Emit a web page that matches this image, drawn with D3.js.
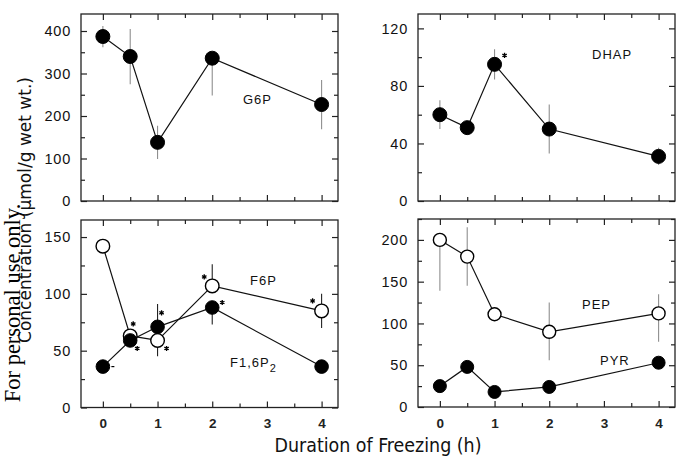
<!DOCTYPE html>
<html><head><meta charset="utf-8">
<script src="https://cdn.jsdelivr.net/npm/d3@7"></script>
<style>
html,body{margin:0;padding:0;background:#fff;}
svg{display:block;}
</style></head>
<body>
<svg id="chart" width="676" height="460"></svg>
<script>
// ---- data ----
const hours = [0, 0.5, 1, 2, 4];
const xTickLabels = [0, 1, 2, 3, 4];
const G6P = [387, 340, 138, 336, 227];
const G6P_up = [25, 65, 39, 0, 58];
const G6P_down = [25, 65, 39, 88, 58];
const DHAP = [60, 51, 95, 50, 31];
const DHAP_up = [10, 0, 10.5, 17, 6];
const DHAP_down = [10, 0, 10.5, 17, 6];
const F6P = [142, 63, 59, 107, 85];
const F6P_up = [0, 6, 0, 19, 15];
const F6P_down = [0, 0, 14, 0, 15];
const F16P2 = [36, 59, 71, 88, 36];
const F16P2_up = [0, 0, 20, 0, 0];
const F16P2_down = [0, 0, 0, 15, 0];
const PEP = [200, 180, 111, 90, 112];
const PEP_up = [0, 35, 0, 35, 23];
const PEP_down = [61, 35, 0, 34, 34];
const PYR = [25, 48, 18, 24, 53];
const PYR_up = [0, 0, 0, 0, 0];
const PYR_down = [0, 0, 0, 0, 0];
const tlTicks = [0, 100, 200, 300, 400];
const trTicks = [0, 40, 80, 120];
const blTicks = [0, 50, 100, 150];
const brTicks = [0, 50, 100, 150, 200];

const svg = d3.select("#chart");
const FONT = "'Liberation Sans', Arial, Helvetica, sans-serif";
const NARROW = "'Liberation Sans Narrow', 'DejaVu Sans Condensed', 'Liberation Sans', sans-serif";

const panels = [
  {x0: 81, y0: 14, w: 257, h: 187, ymax: 440, major: tlTicks, minorStep: 50, xlabels: false, errColor: "#8f8f8f",
   series: [{v: G6P, up: G6P_up, down: G6P_down, open: false}],
   labels: [{t: "G6P", x: 243, y: 104}],
   stars: [], r: 7},
  {x0: 418, y0: 14, w: 257, h: 187, ymax: 130, major: trTicks, minorStep: 20, xlabels: false, errColor: "#8f8f8f",
   series: [{v: DHAP, up: DHAP_up, down: DHAP_down, open: false}],
   labels: [{t: "DHAP", x: 592, y: 59}],
   stars: [{s: 0, i: 2, dx: 10, dy: -9}], r: 7},
  {x0: 81, y0: 220, w: 257, h: 187.5, ymax: 165, major: blTicks, minorStep: 25, xlabels: true, errColor: "#222",
   series: [{v: F6P, up: F6P_up, down: F6P_down, open: true}, {v: F16P2, up: F16P2_up, down: F16P2_down, open: false}],
   labels: [{t: "F6P", x: 250, y: 285}, {t: "F1,6P", sub: "2", x: 230, y: 367}],
   stars: [{s: 0, i: 1, dx: 3, dy: -12}, {s: 1, i: 1, dx: 7, dy: 8},
           {s: 1, i: 2, dx: 4, dy: -14}, {s: 0, i: 2, dx: 9, dy: 8},
           {s: 0, i: 3, dx: -8, dy: -9}, {s: 1, i: 3, dx: 10, dy: -5},
           {s: 0, i: 4, dx: -9, dy: -10}],
   dashes: [{s: 1, i: 0, dx: 10, dy: 0}], r: 6.8},
  {x0: 418, y0: 219, w: 257, h: 188, ymax: 225, major: brTicks, minorStep: 25, xlabels: true, errColor: "#8f8f8f",
   series: [{v: PEP, up: PEP_up, down: PEP_down, open: true}, {v: PYR, up: PYR_up, down: PYR_down, open: false}],
   labels: [{t: "PEP", x: 582, y: 309}, {t: "PYR", x: 600, y: 365}],
   stars: [], r: 6.5}
];

panels.forEach(p => {
  const g = svg.append("g").attr("transform", `translate(${p.x0},${p.y0})`);
  const x = d3.scaleLinear().domain([-0.4, 4.3]).range([0, p.w]);
  const y = d3.scaleLinear().domain([0, p.ymax]).range([p.h, 0]);
  const minor = d3.range(0, p.ymax + 0.001, p.minorStep).filter(v => !p.major.includes(v));
  const xMinor = [0.5, 1.5, 2.5, 3.5];

  function style(sel) {
    sel.select(".domain").remove();
    sel.selectAll("line").attr("stroke", "#222").attr("stroke-width", 1.2);
  }
  // left
  g.append("g").call(d3.axisLeft(y).tickValues(p.major).tickSize(-6).tickPadding(10))
    .call(style).call(s => s.selectAll("text").attr("font-family", FONT).attr("font-size", 14.5)
      .attr("letter-spacing", 0.8).attr("fill", "#111"));
  g.append("g").call(d3.axisLeft(y).tickValues(minor).tickSize(-4).tickFormat("")).call(style);
  // right
  g.append("g").attr("transform", `translate(${p.w},0)`)
    .call(d3.axisRight(y).tickValues(p.major).tickSize(-6).tickFormat("")).call(style);
  g.append("g").attr("transform", `translate(${p.w},0)`)
    .call(d3.axisRight(y).tickValues(minor).tickSize(-4).tickFormat("")).call(style);
  // bottom
  const bAx = d3.axisBottom(x).tickValues(xTickLabels).tickSize(-6).tickPadding(11)
    .tickFormat(p.xlabels ? d3.format("d") : "");
  g.append("g").attr("transform", `translate(0,${p.h})`).call(bAx).call(style)
    .call(s => s.selectAll("text").attr("font-family", FONT).attr("font-size", 13.5)
      .attr("font-weight", "bold").attr("fill", "#222"));
  g.append("g").attr("transform", `translate(0,${p.h})`)
    .call(d3.axisBottom(x).tickValues(xMinor).tickSize(-4).tickFormat("")).call(style);
  // top
  g.append("g").call(d3.axisTop(x).tickValues(xTickLabels).tickSize(-6).tickFormat("")).call(style);
  g.append("g").call(d3.axisTop(x).tickValues(xMinor).tickSize(-4).tickFormat("")).call(style);
  // frame
  g.append("rect").attr("width", p.w).attr("height", p.h)
    .attr("fill", "none").attr("stroke", "#222").attr("stroke-width", 1.3);

  const line = d3.line().x((d, i) => x(hours[i])).y(d => y(d));
  // error bars
  p.series.forEach(s => {
    g.append("g").selectAll("line").data(s.v).join("line")
      .attr("x1", (d, i) => x(hours[i])).attr("x2", (d, i) => x(hours[i]))
      .attr("y1", (d, i) => y(d + s.up[i])).attr("y2", (d, i) => y(Math.max(0, d - s.down[i])))
      .attr("stroke", p.errColor).attr("stroke-width", 1.1);
  });
  p.series.forEach(s => {
    g.append("path").datum(s.v).attr("d", line)
      .attr("fill", "none").attr("stroke", "#111").attr("stroke-width", 1.2);
  });
  p.series.forEach(s => {
    g.append("g").selectAll("circle").data(s.v).join("circle")
      .attr("cx", (d, i) => x(hours[i])).attr("cy", d => y(d)).attr("r", p.r)
      .attr("fill", s.open ? "#fff" : "#000")
      .attr("stroke", "#000").attr("stroke-width", s.open ? 1.4 : 1);
  });
  // asterisks
  (p.stars || []).forEach(st => {
    const s = p.series[st.s];
    g.append("path")
      .attr("transform", `translate(${x(hours[st.i]) + st.dx},${y(s.v[st.i]) + st.dy})`)
      .attr("d", d3.symbol(d3.symbolAsterisk, 18)())
      .attr("stroke", "#000").attr("stroke-width", 1.3).attr("fill", "none");
  });
  (p.dashes || []).forEach(st => {
    const s = p.series[st.s];
    const cx = x(hours[st.i]) + st.dx, cy = y(s.v[st.i]) + st.dy;
    g.append("line").attr("x1", cx - 1.5).attr("x2", cx + 1.5).attr("y1", cy).attr("y2", cy)
      .attr("stroke", "#000").attr("stroke-width", 1.2);
  });
  // labels
  p.labels.forEach(l => {
    const t = svg.append("text").attr("x", l.x).attr("y", l.y)
      .attr("font-family", FONT).attr("font-size", 13).attr("letter-spacing", 1)
      .attr("fill", "#111").text(l.t);
    if (l.sub) t.append("tspan").attr("dy", 5).attr("font-size", 11).text(l.sub);
  });
});

// axis titles
svg.append("text").attr("x", 378).attr("y", 452).attr("text-anchor", "middle")
  .attr("font-family", NARROW).attr("font-size", 20).attr("fill", "#111")
  .attr("textLength", 207).attr("lengthAdjust", "spacingAndGlyphs")
  .text("Duration of Freezing (h)");
svg.append("text").attr("transform", "translate(31,210) rotate(-90)").attr("text-anchor", "middle")
  .attr("font-family", NARROW).attr("font-size", 17.5).attr("fill", "#111")
  .attr("textLength", 266).attr("lengthAdjust", "spacingAndGlyphs")
  .text("Concentration (\u00b5mol/g wet wt.)");
// watermark
svg.append("text").attr("transform", "translate(20,303) rotate(-90)").attr("text-anchor", "middle")
  .attr("font-family", "'Liberation Serif', 'Times New Roman', serif").attr("font-size", 22.5)
  .attr("fill", "#000").text("For personal use only.");
</script>
</body></html>
